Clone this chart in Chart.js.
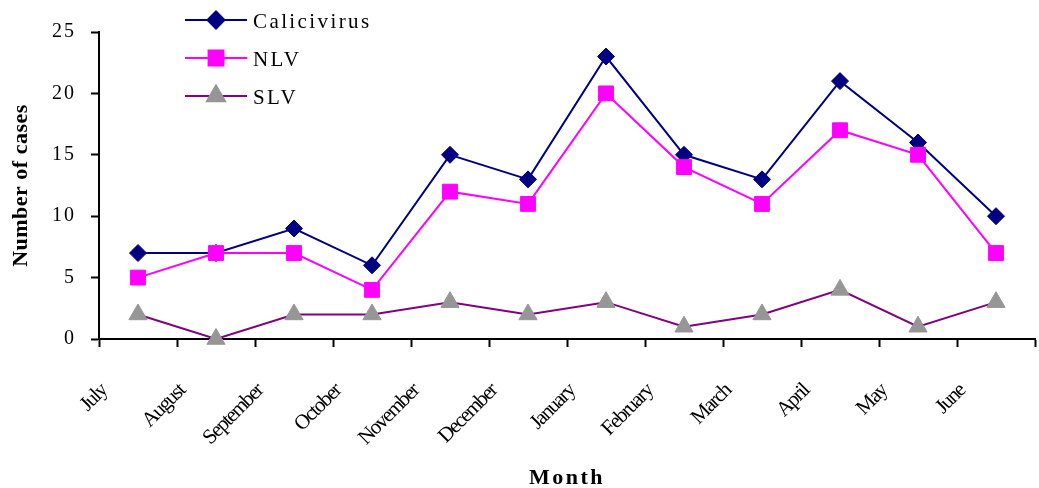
<!DOCTYPE html>
<html>
<head>
<meta charset="utf-8">
<title>Calicivirus cases by month</title>
<script src="https://cdn.jsdelivr.net/npm/chart.js@4/dist/chart.umd.min.js"></script>
<style>
  html, body { margin: 0; padding: 0; background: #fff; overflow: hidden; }
  #wrap { width: 1039px; height: 488px; position: relative; }
  #chart { display: block; }
</style>
</head>
<body>
<div id="wrap"><canvas id="chart"></canvas></div>
<script>
// Monthly case counts, July to June
const months = ['July', 'August', 'September', 'October', 'November', 'December',
                'January', 'February', 'March', 'April', 'May', 'June'];
const calicivirus = [7, 7, 9, 6, 15, 13, 23, 15, 13, 21, 16, 10];
const nlv = [5, 7, 7, 4, 12, 11, 20, 14, 11, 17, 15, 7];
const slv = [2, 0, 2, 2, 3, 2, 3, 1, 2, 4, 1, 3];
const yTicks = [0, 5, 10, 15, 20, 25];

const SERIF = '"Liberation Serif", "Times New Roman", serif';

// Run a drawing step with a given canvas letter spacing
function withSpacing(ctx, spacing, fn) {
  ctx.save();
  if (spacing) ctx.letterSpacing = spacing;
  fn();
  ctx.restore();
}

// Scales that honour a letter spacing for tick labels and titles,
// and can nudge their tick labels by a fixed offset
function spacedScale(Base, id) {
  return class extends Base {
    static id = id;
    _computeLabelItems(area) {
      const items = super._computeLabelItems(area);
      const dx = this.options.ticks.shiftX || 0;
      const dy = this.options.ticks.shiftY || 0;
      if (dx || dy) {
        items.forEach(item => {
          const [x, y] = item.options.translation;
          item.options.translation = [x + dx, y + dy];
        });
      }
      return items;
    }
    drawLabels(area) {
      withSpacing(this.ctx, this.options.ticks.letterSpacing, () => super.drawLabels(area));
    }
    drawTitle() {
      withSpacing(this.ctx, this.options.title.letterSpacing, () => super.drawTitle());
    }
  };
}
const SpacedCategory = spacedScale(Chart.CategoryScale, 'spacedCategory');
const SpacedLinear = spacedScale(Chart.LinearScale, 'spacedLinear');
Chart.register(SpacedCategory, SpacedLinear);

// Line-and-marker legend in the upper left of the plot
const lineLegend = {
  id: 'lineLegend',
  afterDraw(chart, args, opts) {
    const ctx = chart.ctx;
    chart.data.datasets.forEach((ds, i) => {
      const y = opts.top + i * opts.rowGap;
      ctx.save();
      ctx.strokeStyle = ds.borderColor;
      ctx.lineWidth = ds.borderWidth;
      ctx.beginPath();
      ctx.moveTo(opts.left, y);
      ctx.lineTo(opts.left + opts.lineLength, y);
      ctx.stroke();
      ctx.fillStyle = ds.pointBackgroundColor;
      ctx.strokeStyle = ds.pointBorderColor;
      Chart.helpers.drawPoint(ctx, {
        pointStyle: ds.pointStyle,
        radius: ds.pointRadius,
        rotation: 0,
        borderWidth: 1
      }, opts.left + opts.lineLength / 2, y);
      ctx.restore();
      withSpacing(ctx, opts.letterSpacing, () => {
        ctx.fillStyle = '#000';
        ctx.font = opts.font;
        ctx.textAlign = 'left';
        ctx.textBaseline = 'middle';
        ctx.fillText(ds.label, opts.left + opts.lineLength + opts.textGap, y + 2);
      });
    });
  }
};

const series = [
  { label: 'Calicivirus', values: calicivirus, line: '#000080', fill: '#000080', style: 'rectRot', r: 8.5, order: 3 },
  { label: 'NLV', values: nlv, line: '#FF00FF', fill: '#FF00FF', style: 'rect', r: 10.5, order: 2 },
  { label: 'SLV', values: slv, line: '#800080', fill: '#969696', style: 'triangle', r: 10.5, order: 1 }
];

new Chart(document.getElementById('chart'), {
  type: 'line',
  data: {
    labels: months,
    datasets: series.map(s => ({
      label: s.label,
      data: s.values,
      borderColor: s.line,
      borderWidth: 2,
      pointStyle: s.style,
      pointRadius: s.r,
      pointHoverRadius: s.r,
      pointBackgroundColor: s.fill,
      pointBorderColor: s.fill,
      pointBorderWidth: 1,
      tension: 0,
      clip: false,
      order: s.order
    }))
  },
  options: {
    responsive: true,
    maintainAspectRatio: false,
    animation: false,
    events: [],
    layout: { autoPadding: false, padding: { top: 32, right: 4, left: 0, bottom: 0 } },
    plugins: {
      legend: { display: false },
      tooltip: { enabled: false },
      lineLegend: {
        left: 185, top: 20, rowGap: 38, lineLength: 62, textGap: 6,
        font: '21px ' + SERIF, letterSpacing: '2.4px'
      }
    },
    scales: {
      x: {
        type: 'spacedCategory',
        offset: true,
        grid: {
          offset: true,
          drawOnChartArea: false,
          drawTicks: true,
          tickLength: 8,
          tickWidth: 2,
          tickColor: '#000'
        },
        border: { display: true, color: '#000', width: 2 },
        ticks: {
          autoSkip: false,
          minRotation: 45,
          maxRotation: 45,
          labelOffset: -34,
          padding: 2,
          shiftY: 30,
          color: '#000',
          letterSpacing: '-1.6px',
          font: { family: SERIF, size: 21 }
        },
        title: {
          display: true,
          text: 'Month',
          color: '#000',
          letterSpacing: '2.5px',
          padding: 0,
          font: { family: SERIF, size: 22, weight: 'bold', lineHeight: 0.85 }
        },
        afterFit(scale) {
          scale.height = 149;
        }
      },
      y: {
        type: 'spacedLinear',
        min: 0,
        max: 25,
        afterBuildTicks(scale) { scale.ticks = yTicks.map(v => ({ value: v })); },
        grid: {
          drawOnChartArea: false,
          drawTicks: true,
          tickLength: 8,
          tickWidth: 2,
          tickColor: '#000'
        },
        border: { display: true, color: '#000', width: 2 },
        ticks: {
          padding: 15,
          color: '#000',
          letterSpacing: '2px',
          font: { family: SERIF, size: 20 }
        },
        title: {
          display: true,
          text: 'Number of cases',
          color: '#000',
          letterSpacing: '0.5px',
          padding: { top: 8, bottom: 0 },
          font: { family: SERIF, size: 22, weight: 'bold' }
        },
        afterFit(scale) {
          scale.width = 99;
        }
      }
    }
  },
  plugins: [lineLegend]
});
</script>
</body>
</html>
